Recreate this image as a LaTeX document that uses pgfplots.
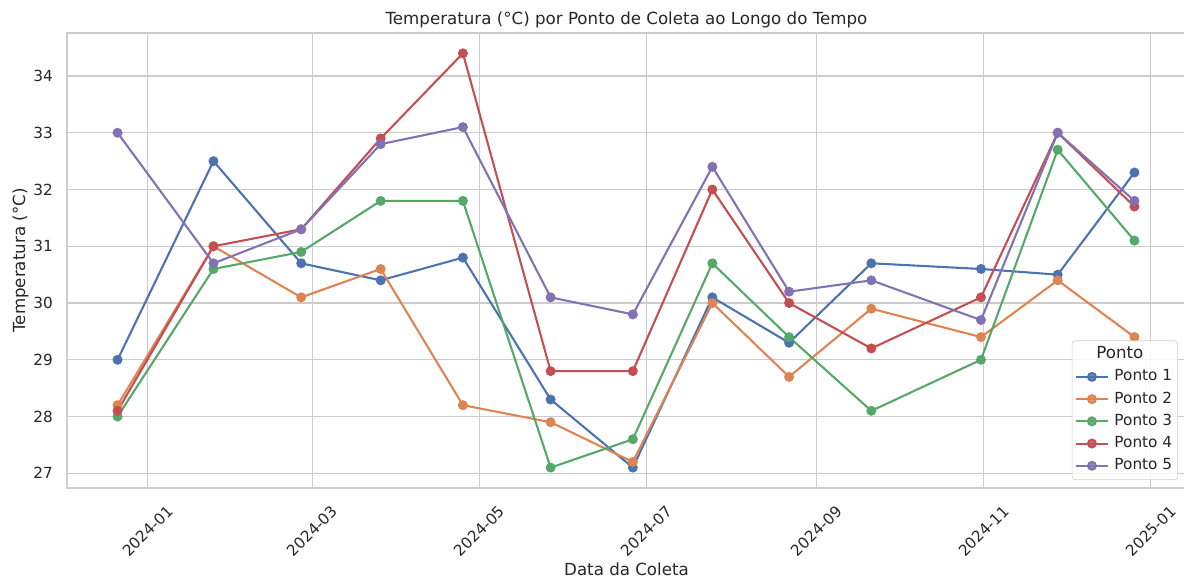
\documentclass[border=0pt]{standalone}
\usepackage{pgfplots}
\pgfplotsset{compat=1.18}
\usepackage{fontspec}
\setmainfont{DejaVu Sans}
\definecolor{sblue}{HTML}{4C72B0}
\definecolor{sorange}{HTML}{DD8452}
\definecolor{sgreen}{HTML}{55A868}
\definecolor{sred}{HTML}{C44E52}
\definecolor{spurple}{HTML}{8172B3}
\definecolor{txt}{HTML}{262626}
\definecolor{gridc}{HTML}{CCCCCC}
\pgfplotstableread{
x    p1   p2   p3   p4   p5
-11  29.0 28.2 28.0 28.1 33.0
24   32.5 31.0 30.6 31.0 30.7
56   30.7 30.1 30.9 31.3 31.3
85   30.4 30.6 31.8 32.9 32.8
115  30.8 28.2 31.8 34.4 33.1
147  28.3 27.9 27.1 28.8 30.1
177  27.1 27.2 27.6 28.8 29.8
206  30.1 30.0 30.7 32.0 32.4
234  29.3 28.7 29.4 30.0 30.2
264  30.7 29.9 28.1 29.2 30.4
304  30.6 29.4 29.0 30.1 29.7
332  30.5 30.4 32.7 33.0 33.0
360  32.3 29.4 31.1 31.7 31.8
}\data
\begin{document}
\begin{tikzpicture}
\begin{axis}[
  scale only axis,
  width=805.68pt, height=327.6pt,
  xmin=-29.44, xmax=378.8,
  ymin=26.741, ymax=34.758,
  axis line style={draw=gridc, line width=1pt},
  grid=major,
  major grid style={draw=gridc, line width=0.8pt},
  major tick length=0pt,
  xtick={0,60,121,182,244,305,366},
  xticklabels={2024-01,2024-03,2024-05,2024-07,2024-09,2024-11,2025-01},
  ytick={27,28,29,30,31,32,33,34},
  /pgf/number format/assume math mode=true,
  tick label style={font=\fontsize{11}{13}\selectfont, text=txt},
  xticklabel style={anchor=center, yshift=-31pt, rotate=45},
  yticklabel style={anchor=east, inner sep=0pt, xshift=-10pt},
  every axis title shift=0pt,
  title={Temperatura (°C) por Ponto de Coleta ao Longo do Tempo},
  title style={at={(axis description cs:0.5,1.0176)}, anchor=base, yshift=0pt, inner sep=0pt, font=\fontsize{12}{14}\selectfont, text=txt},
  xlabel={Data da Coleta},
  xlabel style={at={(axis description cs:0.5,-0.1926)}, anchor=base, font=\fontsize{12}{14}\selectfont, text=txt},
  ylabel={Temperatura (°C)},
  ylabel style={at={(axis description cs:-0.0375,0.5)}, anchor=base, font=\fontsize{12}{14}\selectfont, text=txt},
  legend style={at={(axis description cs:0.9928,0.0177)}, anchor=south east,
    draw=black!20, rounded corners=2pt, fill=white, fill opacity=0.8, text opacity=1,
    font=\fontsize{11}{13}\selectfont, text=txt,
    inner xsep=2pt, inner ysep=2pt,
    nodes={inner ysep=2.5pt, inner xsep=2pt, text height=8.4pt, text depth=2.6pt},
    column sep=2pt},
  legend cell align=left,
  legend image code/.code={\draw[mark repeat=2,mark phase=2] plot coordinates {(0pt,0pt) (11.5pt,0pt) (23pt,0pt)};},
  every axis plot/.append style={line width=1.5pt, mark=*, mark size=2.8pt},
]
\addlegendimage{empty legend}
\addlegendentry{\hspace*{-13pt}\fontsize{12}{14}\selectfont Ponto}
\addplot[color=sblue, mark options={solid, fill=sblue}] table[x=x, y=p1] {\data};
\addlegendentry{Ponto 1}
\addplot[color=sorange, mark options={solid, fill=sorange}] table[x=x, y=p2] {\data};
\addlegendentry{Ponto 2}
\addplot[color=sgreen, mark options={solid, fill=sgreen}] table[x=x, y=p3] {\data};
\addlegendentry{Ponto 3}
\addplot[color=sred, mark options={solid, fill=sred}] table[x=x, y=p4] {\data};
\addlegendentry{Ponto 4}
\addplot[color=spurple, mark options={solid, fill=spurple}] table[x=x, y=p5] {\data};
\addlegendentry{Ponto 5}
\end{axis}
\pgfresetboundingbox
\path[use as bounding box] (-48.24pt,-66.24pt) rectangle (804.24pt,351.36pt);
\end{tikzpicture}
\end{document}
